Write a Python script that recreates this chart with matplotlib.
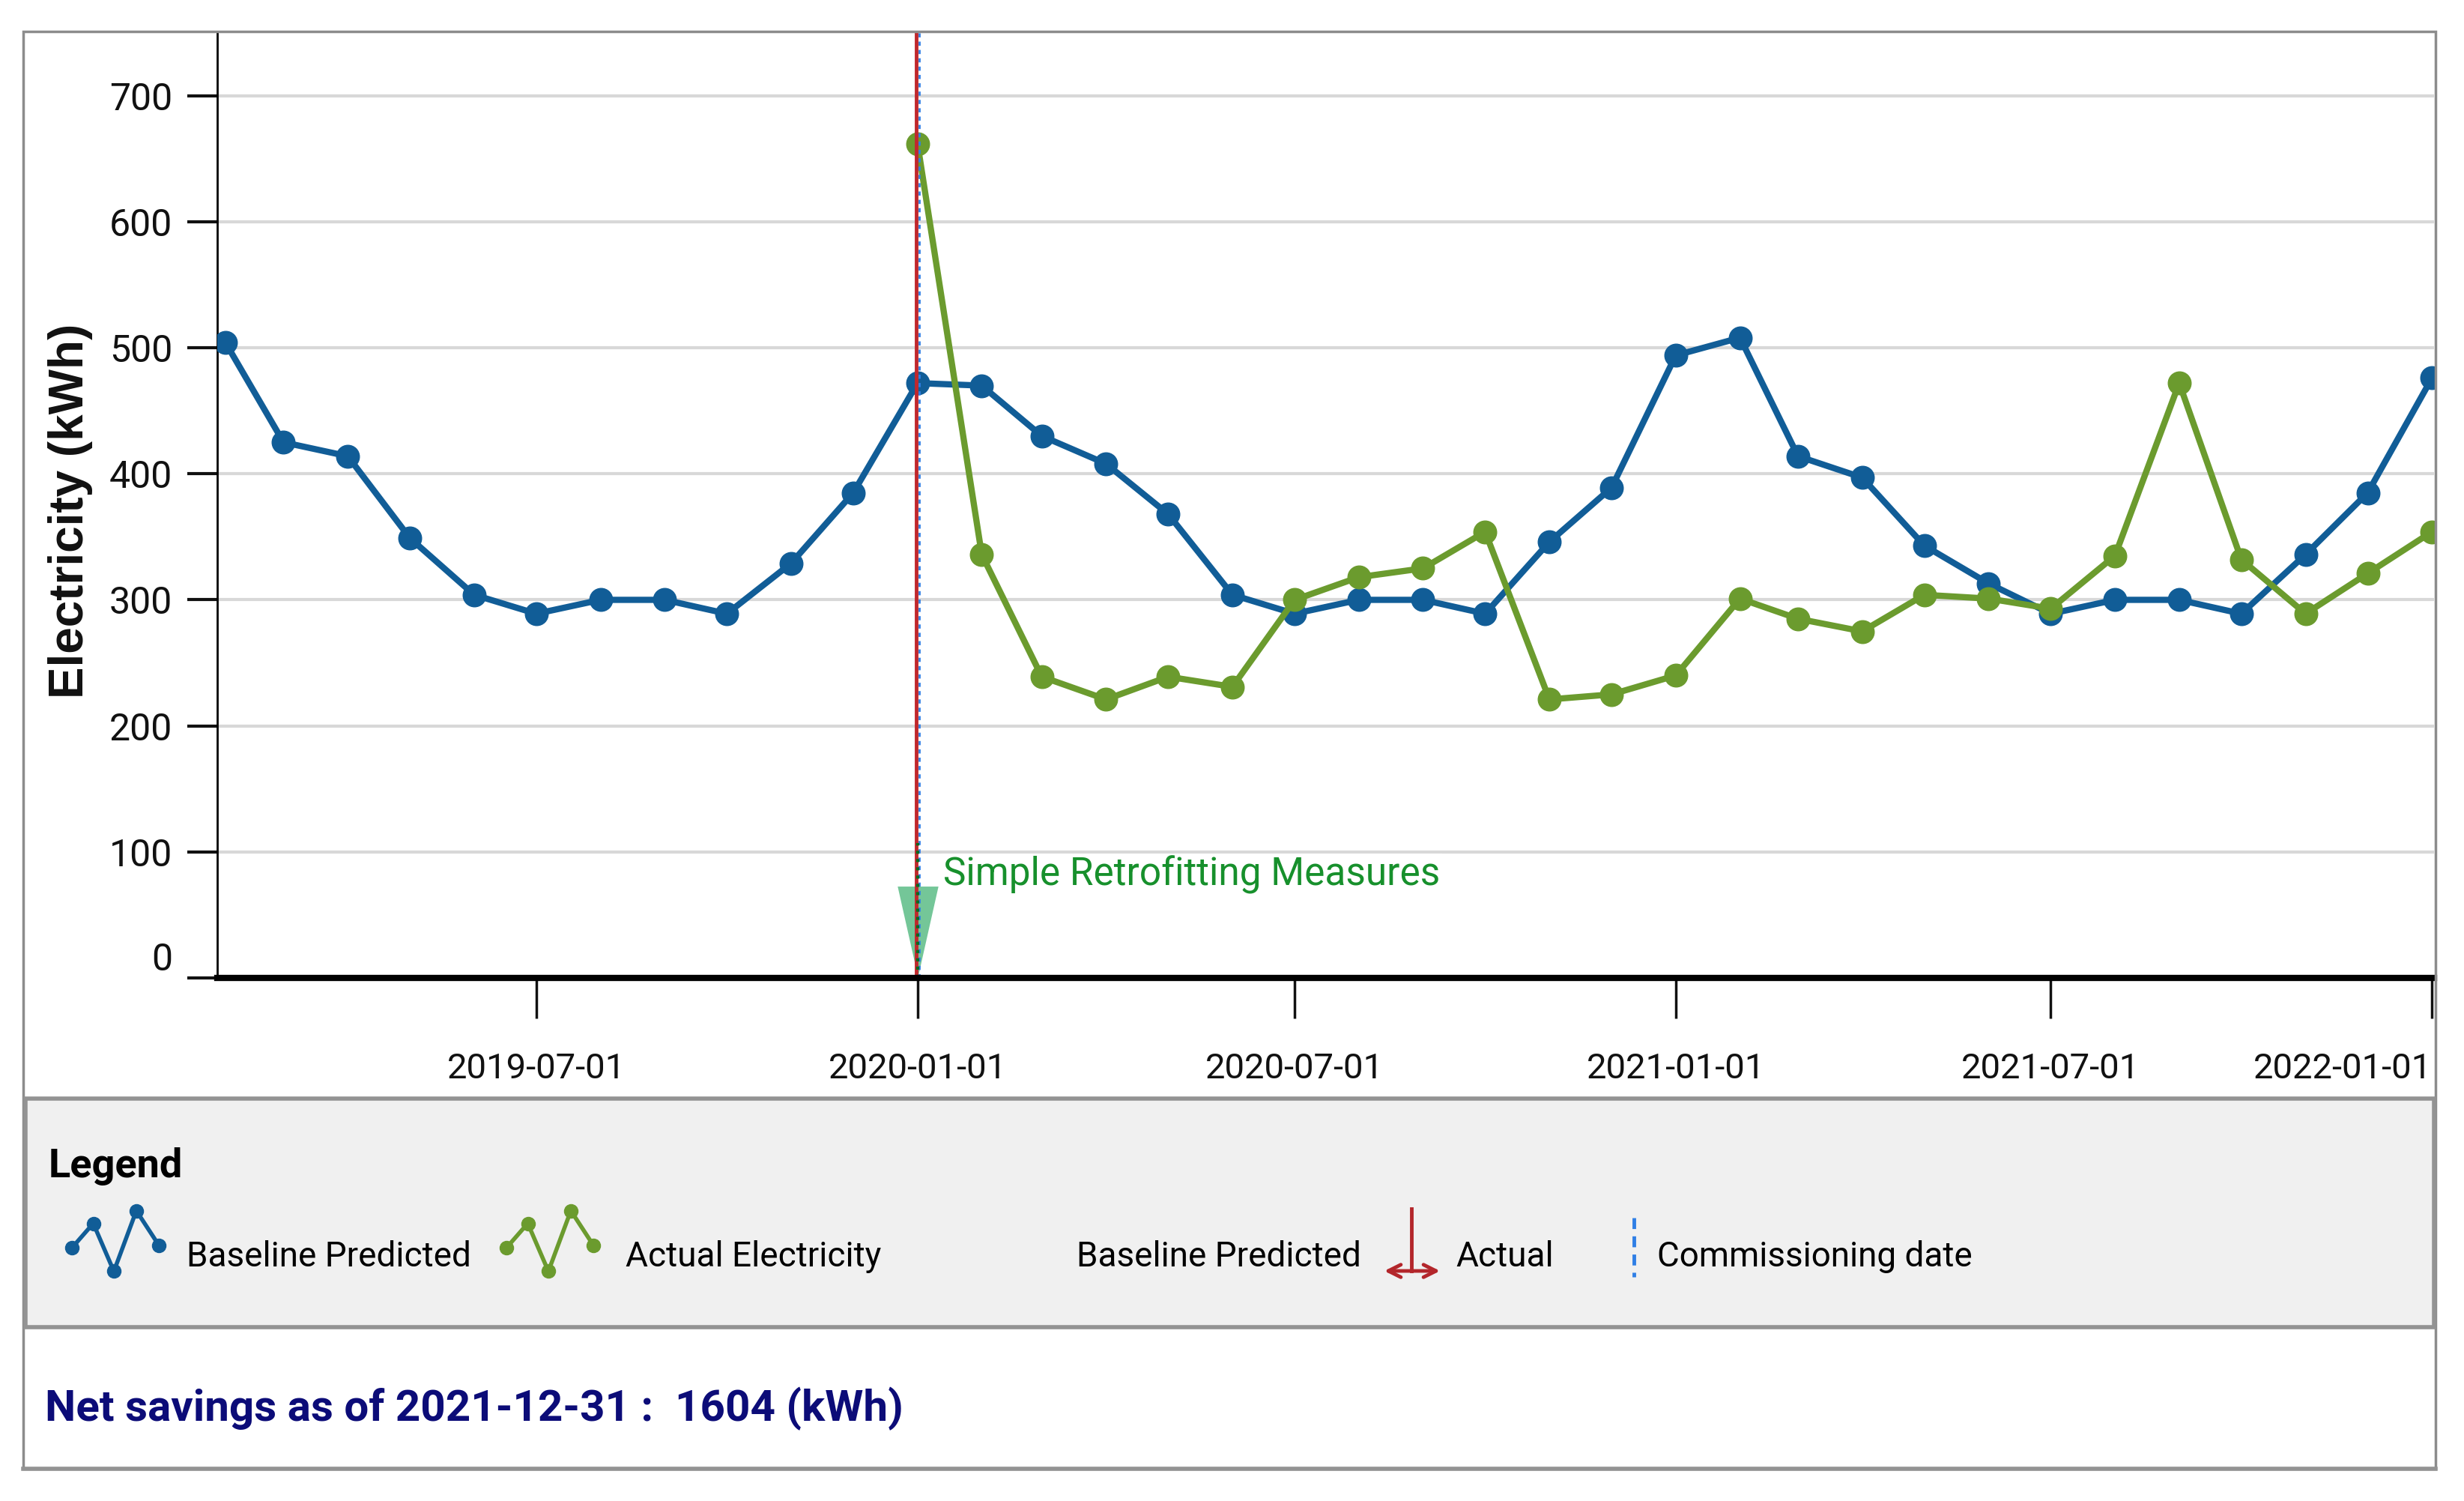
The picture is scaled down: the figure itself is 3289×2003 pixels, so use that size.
import pandas as pd
import matplotlib.pyplot as plt
import matplotlib.dates as mdates
from matplotlib.patches import Rectangle, FancyArrowPatch
from matplotlib.lines import Line2D
from matplotlib.transforms import ScaledTranslation

# Tamaño final en pixeles
W, H = 3289, 2003
plt.rcParams['font.family'] = ['Roboto', 'DejaVu Sans']

# Datos
months = pd.date_range('2019-02-01', '2022-01-01', freq='MS')
baseline = [504, 425, 414, 349, 304, 289, 300, 300, 289, 329, 385,
            472, 470, 430, 408, 368, 304, 289, 300, 300, 289, 346, 389,
            494, 508, 414, 397, 343, 313, 289, 300, 300, 289, 336, 385,
            476]
actual_months = pd.date_range('2020-01-01', '2022-01-01', freq='MS')
actual = [662, 336, 239, 221, 239, 231, 300, 318, 325, 354, 221, 225,
          240, 301, 285, 275, 304, 301, 293, 335, 472, 332, 289, 321,
          354]
commissioning = pd.Timestamp('2020-01-01')
x_ticks = pd.to_datetime(['2019-07-01', '2020-01-01', '2020-07-01',
                          '2021-01-01', '2021-07-01', '2022-01-01'])
y_ticks = [0, 100, 200, 300, 400, 500, 600, 700]
measure_label = 'Simple Retrofitting Measures'
savings_text = 'Net savings as of 2021-12-31 :  1604 (kWh)'

BLUE = '#115d97'
GREEN = '#6b9b2e'
RED = '#c0282d'
COMM_BLUE = '#2f7fe6'
MEASURE_GREEN = '#17902c'
NAVY = '#0c0c78'

# forma del icono de leyenda (normalizada)
ICON_X = [0.03, 0.26, 0.48, 0.72, 0.96]
ICON_Y = [0.41, 0.76, 0.08, 0.94, 0.45]


def fx(px):
    return px / W


def fy(py):
    return 1 - py / H


fig = plt.figure(figsize=(W / 100, H / 100), dpi=100)

# Marco general y caja de la leyenda
fig.add_artist(Rectangle((fx(31), fy(1960)), fx(3251) - fx(31), fy(42) - fy(1960),
                         transform=fig.transFigure, fill=False, ec='#8c8c8c', lw=2.5))
fig.add_artist(Rectangle((fx(34), fy(1771)), fx(3249) - fx(34), fy(1466) - fy(1771),
                         transform=fig.transFigure, fc='#f0f0f0', ec='#939393', lw=4))
fig.add_artist(Line2D([fx(31), fx(3251)], [fy(1960), fy(1960)], color='#939393', lw=4))

ax = fig.add_axes([fx(290), fy(1305), fx(3249) - fx(290), fy(42) - fy(1305)])

ax.plot(months, baseline, '-o', color=BLUE, lw=6, ms=22, zorder=3)
ax.plot(actual_months, actual, '-o', color=GREEN, lw=6, ms=22, zorder=4)

# Fecha de puesta en marcha
ax.plot([commissioning], [37], ls='none', marker=[(-0.45, 1), (0.45, 1), (0, -1)],
        ms=87, color='#45b476', alpha=0.75, mec='none', zorder=4.5)
red = ax.axvline(commissioning, color=RED, lw=3.5, zorder=5)
red.set_transform(red.get_transform() + ScaledTranslation(-1.5 / 72, 0, fig.dpi_scale_trans))
comm = ax.axvline(commissioning, color=COMM_BLUE, lw=2, ls=(0, (2, 2)), zorder=6)
comm.set_transform(comm.get_transform() + ScaledTranslation(1.5 / 72, 0, fig.dpi_scale_trans))
ax.vlines(commissioning, 0, 107, color='#0b6b1f', lw=3, ls=':', zorder=7)
ax.annotate(measure_label, xy=(commissioning, 82), xytext=(25, 0),
            textcoords='offset points', va='center', ha='left',
            color=MEASURE_GREEN, fontsize=37,
            bbox=dict(fc='white', ec='none', pad=2), zorder=8)

ax.set_xlim(pd.Timestamp('2019-01-28'), pd.Timestamp('2022-01-02'))
ax.set_ylim(0, 751)
ax.set_yticks(y_ticks)
ax.set_xticks(x_ticks)
ax.xaxis.set_major_formatter(mdates.DateFormatter('%Y-%m-%d'))
ax.yaxis.grid(True, color='#d8d8d8', lw=3)
ax.set_axisbelow(True)

for side in ['top', 'right']:
    ax.spines[side].set_visible(False)
ax.spines['left'].set_linewidth(2)
ax.spines['bottom'].set_linewidth(6)
ax.spines['bottom'].set_zorder(9)

ax.tick_params(axis='y', length=29, width=3, pad=14, labelsize=36, colors='#111111')
ax.tick_params(axis='x', length=39, width=2.5, pad=32, labelsize=34, colors='#111111')
ax.get_yticklabels()[0].set_va('bottom')
ax.get_xticklabels()[-1].set_ha('right')

fig.text(fx(94), fy(682), 'Electricity (kWh)', rotation=90, ha='center', va='center',
         fontsize=46, fontweight='bold', family='Liberation Sans', color='#111111')

# Leyenda dibujada a mano
fig.text(fx(65), fy(1571), 'Legend', fontsize=39, fontweight='bold', va='baseline')


def zigzag_icon(x0, color):
    iax = fig.add_axes([fx(x0), fy(1704), fx(125) - fx(0), fy(1610) - fy(1704)])
    iax.set_zorder(5)
    iax.plot(ICON_X, ICON_Y, '-o', color=color, lw=4, ms=13, clip_on=False)
    iax.set_xlim(0, 1)
    iax.set_ylim(0, 1)
    iax.axis('off')


zigzag_icon(92, BLUE)
fig.text(fx(249), fy(1690), 'Baseline Predicted', fontsize=33, va='baseline')
zigzag_icon(672, GREEN)
fig.text(fx(835), fy(1690), 'Actual Electricity', fontsize=33, va='baseline')
fig.text(fx(1437), fy(1690), 'Baseline Predicted', fontsize=33, va='baseline')
fig.add_artist(Line2D([fx(1884), fx(1884)], [fy(1613), fy(1696)], color='#b3262b', lw=3.5))
fig.add_artist(FancyArrowPatch((fx(1845), fy(1696)), (fx(1925), fy(1696)),
                               transform=fig.transFigure, arrowstyle='<->',
                               mutation_scale=30, color='#b3262b', lw=3.5))
fig.text(fx(1943), fy(1690), 'Actual', fontsize=33, va='baseline')
fig.add_artist(Line2D([fx(2181), fx(2181)], [fy(1625), fy(1704)], color=COMM_BLUE,
                      lw=3.5, ls=(0, (3, 2))))
fig.text(fx(2212), fy(1690), 'Commissioning date', fontsize=33, va='baseline')

fig.text(fx(60), fy(1896), savings_text, fontsize=42, fontweight='bold',
         color=NAVY, va='baseline')

fig.savefig('out.png', dpi=100)
